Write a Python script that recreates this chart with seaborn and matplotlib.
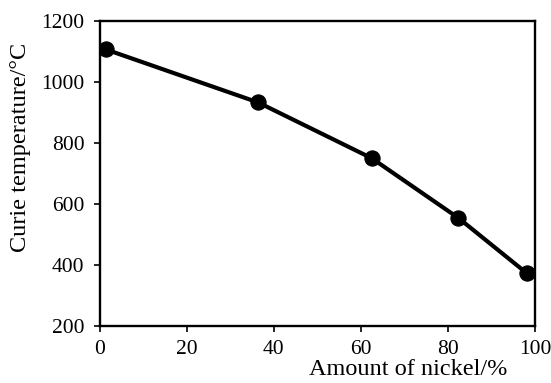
import numpy as np
import pandas as pd
import seaborn as sns
import matplotlib.pyplot as plt

nickel = [1.4, 36.4, 62.5, 82.4, 98.1]
curie_temp = [1107, 933, 750, 554, 373]

sns.set_theme(style="white")
plt.rcParams["font.family"] = ["Liberation Serif", "DejaVu Serif"]

data = pd.DataFrame({"Nickel": nickel, "Curie": curie_temp})

fig = plt.figure(figsize=(5.51, 3.83), dpi=100)
ax = fig.add_axes([0.181, 0.149, 0.79, 0.796])
sns.lineplot(x="Nickel", y="Curie", data=data, color="black", linewidth=3,
             marker="o", markersize=11, markeredgecolor="black", ax=ax)

ax.set_xlim(0, 100)
ax.set_ylim(200, 1200)
ax.set_xticks([0, 20, 40, 60, 80, 100])
ax.set_yticks([200, 400, 600, 800, 1000, 1200])
ax.tick_params(axis="both", labelsize=15.5, colors="black", length=4, width=1.2,
               direction="out")
ax.tick_params(axis="y", pad=7)
ax.tick_params(axis="x", pad=6)
ax.tick_params(left=True, bottom=True)
for s in ax.spines.values():
    s.set_color("black")
    s.set_linewidth(1.7)

ax.set_xlabel("Amount of nickel/%", fontsize=17.5, color="black")
ax.set_ylabel("Curie temperature/°C", fontsize=17.5, color="black")
ax.xaxis.set_label_coords(0.708, -0.108)
ax.yaxis.set_label_coords(-0.158, 0.584)

plt.savefig("out.png", dpi=100)
